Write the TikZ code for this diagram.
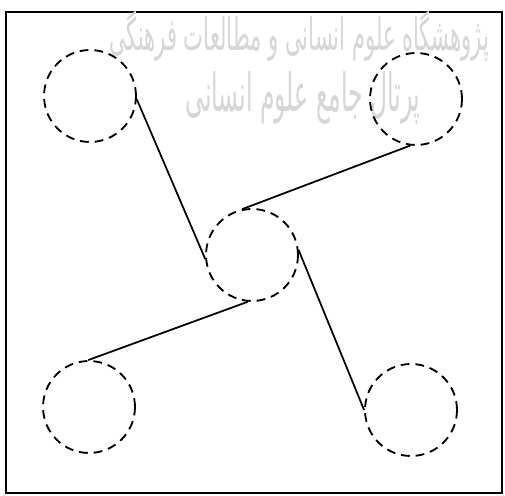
\documentclass[tikz,border=0pt]{standalone}
\usepackage{fontspec}
\newfontfamily\arabicfont[Script=Arabic]{DejaVu Sans}
\TeXXeTstate=1
\begin{document}
\begin{tikzpicture}[x=0.02cm,y=-0.02cm,
  ring/.style={circle,draw,dash pattern=on 5pt off 3.4pt,line width=1.05pt,minimum size=1.84cm,inner sep=0pt},
  link/.style={line width=1.0pt},
  wm/.style={text=black!16,inner sep=0pt}]
\useasboundingbox (0,0) rectangle (505,496);
\draw[line width=1.1pt] (6,12) rectangle (502,493);
\node[wm] (w1) at (299,36) {\resizebox{7.6cm}{0.8cm}{\arabicfont\beginR پژوهشگاه علوم انسانی و مطالعات فرهنگی\endR}};
\node[wm] (w2) at (303,98) {\resizebox{4.7cm}{0.8cm}{\arabicfont\beginR پرتال جامع علوم انسانی\endR}};
\node[ring] (tl) at (90,96) {};
\node[ring] (tr) at (416,99) {};
\node[ring] (c) at (252,255) {};
\node[ring] (bl) at (89,407) {};
\node[ring] (br) at (411,410) {};
\draw[link] (tl.-4) -- (c.185);
\draw[link] (tr.-97) -- (c.102);
\draw[link] (c.6) -- (br.180);
\draw[link] (c.-95) -- (bl.91);
\end{tikzpicture}
\end{document}
